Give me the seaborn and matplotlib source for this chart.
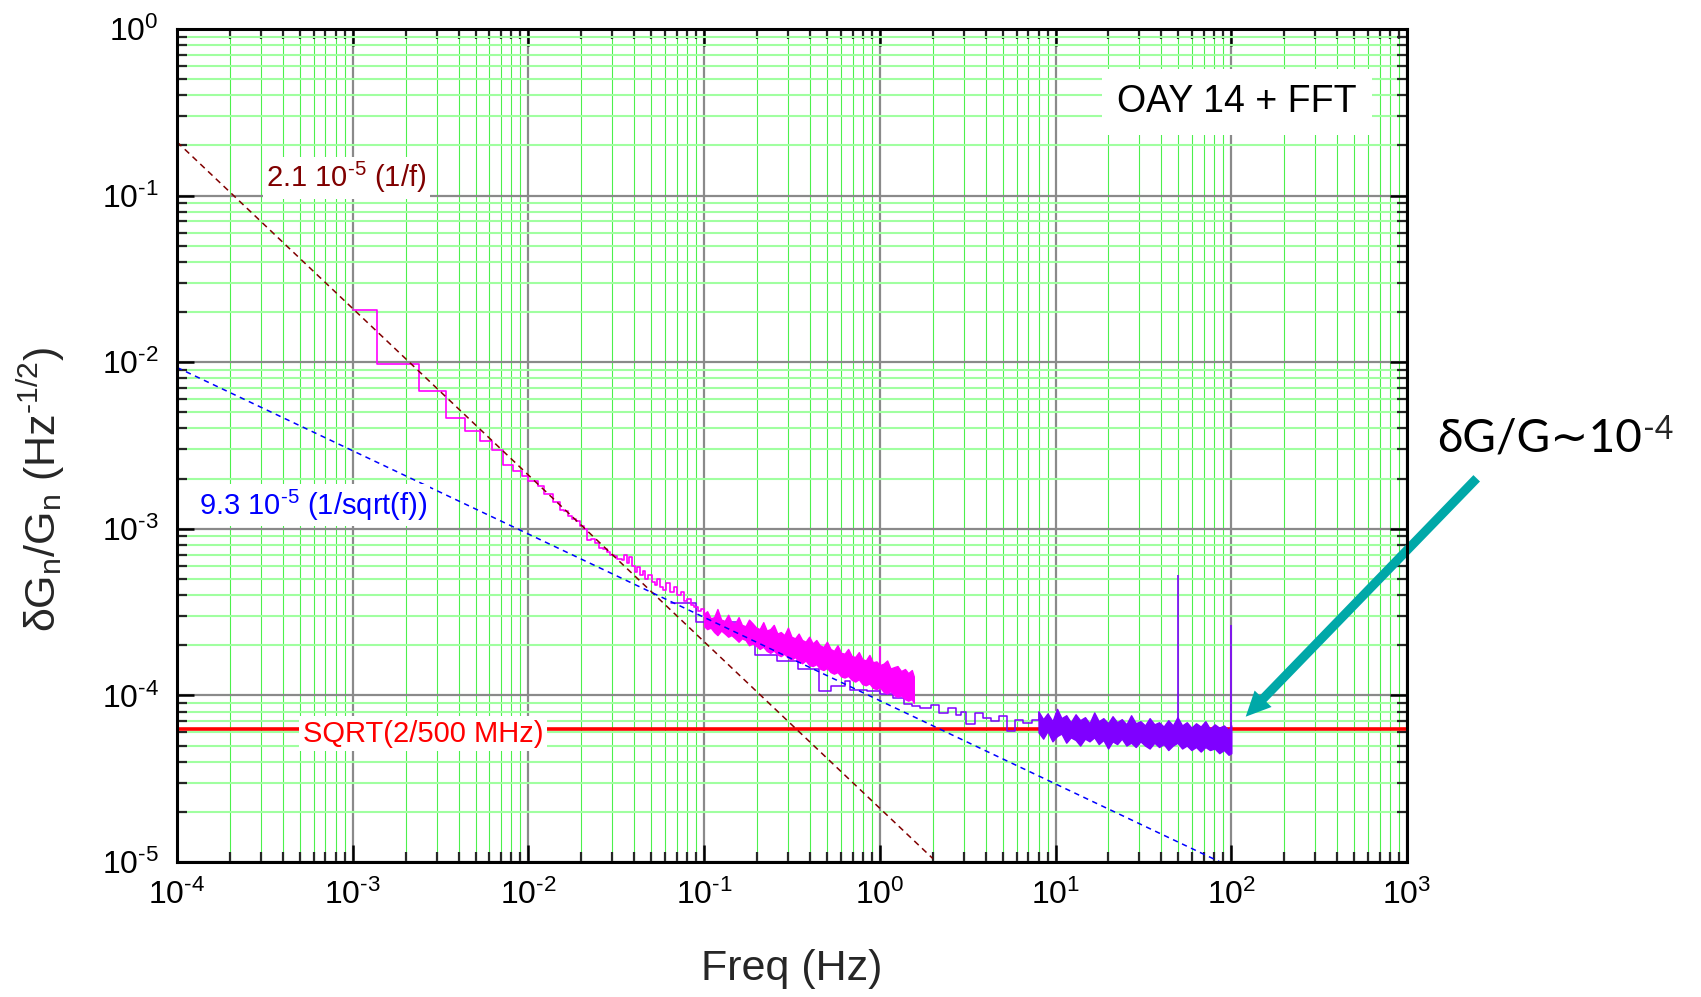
import numpy as np
import matplotlib
matplotlib.use("Agg")
import matplotlib.pyplot as plt
import seaborn as sns
from matplotlib.ticker import LogLocator, FuncFormatter, NullFormatter, FixedLocator

# ---------------- data ----------------
# magenta trace: low-frequency step part (steps-post: value holds from f to next f)
mag_step_f = [1.0e-3, 1.37e-3, 2.37e-3, 3.38e-3, 4.33e-3, 5.33e-3, 6.18e-3, 7.16e-3,
              8.18e-3, 9.23e-3, 1.0e-2, 1.13e-2, 1.22e-2, 1.38e-2, 1.52e-2, 1.60e-2,
              1.69e-2, 1.78e-2, 1.86e-2, 1.96e-2, 2.06e-2, 2.15e-2, 2.28e-2, 2.40e-2,
              2.52e-2, 2.65e-2, 2.79e-2, 2.92e-2, 3.08e-2, 3.20e-2, 3.40e-2, 3.52e-2,
              3.65e-2, 3.76e-2, 3.90e-2, 4.02e-2, 4.16e-2, 4.30e-2, 4.46e-2, 4.60e-2,
              4.80e-2, 5.08e-2, 5.25e-2, 5.40e-2, 5.62e-2, 5.85e-2, 6.05e-2, 6.43e-2,
              6.70e-2, 7.00e-2, 7.35e-2, 7.70e-2, 8.00e-2, 8.40e-2, 8.80e-2, 9.20e-2,
              9.61e-2, 1.0e-1]
mag_step_v = [2.07e-2, 9.8e-3, 6.76e-3, 4.63e-3, 3.89e-3, 3.36e-3, 2.96e-3, 2.43e-3,
              2.22e-3, 2.07e-3, 1.93e-3, 1.80e-3, 1.62e-3, 1.45e-3, 1.30e-3, 1.28e-3,
              1.20e-3, 1.14e-3, 1.11e-3, 1.04e-3, 1.00e-3, 8.6e-4, 8.7e-4, 8.2e-4,
              7.7e-4, 7.6e-4, 7.3e-4, 7.0e-4, 6.9e-4, 6.6e-4, 6.5e-4, 7.0e-4,
              6.2e-4, 6.8e-4, 6.0e-4, 5.5e-4, 5.9e-4, 5.3e-4, 5.6e-4, 5.0e-4,
              5.3e-4, 4.8e-4, 4.6e-4, 5.0e-4, 4.5e-4, 4.3e-4, 4.7e-4, 4.2e-4,
              4.5e-4, 4.0e-4, 4.2e-4, 3.7e-4, 3.8e-4, 3.5e-4, 3.4e-4, 3.2e-4,
              3.3e-4, 3.0e-4]
# magenta trace: dense noisy part, upper / lower envelope
mag_band_f = [0.100, 0.104, 0.109, 0.114, 0.119, 0.125, 0.131, 0.137, 0.143, 0.150,
              0.157, 0.164, 0.172, 0.180, 0.189, 0.198, 0.207, 0.217, 0.227, 0.238,
              0.249, 0.261, 0.273, 0.286, 0.300, 0.314, 0.329, 0.345, 0.361, 0.378,
              0.396, 0.415, 0.435, 0.455, 0.477, 0.500, 0.524, 0.548, 0.574, 0.602,
              0.630, 0.660, 0.692, 0.724, 0.759, 0.795, 0.832, 0.872, 0.913, 0.957,
              1.00, 1.05, 1.10, 1.15, 1.21, 1.26, 1.32, 1.39, 1.45, 1.52, 1.56]
mag_band_hi = [3.10e-4, 3.20e-4, 2.90e-4, 2.95e-4, 3.30e-4, 2.85e-4, 2.80e-4, 3.05e-4, 2.75e-4, 2.70e-4,
               2.95e-4, 2.65e-4, 2.60e-4, 2.85e-4, 2.70e-4, 2.55e-4, 2.50e-4, 2.75e-4, 2.45e-4, 2.50e-4,
               2.65e-4, 2.35e-4, 2.40e-4, 2.30e-4, 2.55e-4, 2.25e-4, 2.20e-4, 2.35e-4, 2.15e-4, 2.10e-4,
               2.25e-4, 2.05e-4, 2.15e-4, 2.00e-4, 1.95e-4, 2.10e-4, 1.90e-4, 1.85e-4, 2.00e-4, 1.80e-4,
               1.78e-4, 1.90e-4, 1.72e-4, 1.70e-4, 1.82e-4, 1.65e-4, 1.62e-4, 1.75e-4, 1.58e-4, 1.60e-4,
               1.52e-4, 1.55e-4, 1.62e-4, 1.45e-4, 1.48e-4, 1.50e-4, 1.40e-4, 1.44e-4, 1.36e-4, 1.42e-4, 1.30e-4]
mag_band_lo = [2.60e-4, 2.50e-4, 2.55e-4, 2.40e-4, 2.30e-4, 2.45e-4, 2.35e-4, 2.25e-4, 2.30e-4, 2.20e-4,
               2.10e-4, 2.20e-4, 2.15e-4, 2.00e-4, 2.05e-4, 1.98e-4, 1.90e-4, 1.96e-4, 1.85e-4, 1.80e-4,
               1.86e-4, 1.76e-4, 1.72e-4, 1.78e-4, 1.68e-4, 1.64e-4, 1.70e-4, 1.60e-4, 1.56e-4, 1.62e-4,
               1.52e-4, 1.50e-4, 1.54e-4, 1.45e-4, 1.42e-4, 1.46e-4, 1.38e-4, 1.35e-4, 1.38e-4, 1.30e-4,
               1.28e-4, 1.31e-4, 1.24e-4, 1.21e-4, 1.25e-4, 1.17e-4, 1.15e-4, 1.18e-4, 1.11e-4, 1.09e-4,
               1.12e-4, 1.05e-4, 1.03e-4, 1.06e-4, 1.00e-4, 0.98e-4, 1.00e-4, 0.95e-4, 0.93e-4, 0.95e-4, 0.90e-4]
# purple trace: step part
pur_step_f = [0.065, 0.090, 0.153, 0.194, 0.26, 0.34, 0.45, 0.53, 0.63, 0.68, 0.84,
              1.00, 1.19, 1.38, 1.53, 1.70, 1.96, 2.18, 2.43, 2.70, 2.90, 3.11, 3.46,
              3.85, 4.28, 4.76, 5.30, 5.90, 6.56, 7.30, 8.10]
pur_step_v = [3.6e-4, 2.77e-4, 2.2e-4, 1.75e-4, 1.6e-4, 1.45e-4, 1.07e-4, 1.14e-4,
              1.22e-4, 1.08e-4, 1.06e-4, 1.02e-4, 9.6e-5, 8.9e-5, 8.6e-5, 8.4e-5,
              8.7e-5, 7.8e-5, 8.4e-5, 7.6e-5, 8.0e-5, 6.7e-5, 7.8e-5, 7.3e-5, 7.0e-5,
              7.5e-5, 6.1e-5, 7.1e-5, 6.8e-5, 7.1e-5, 8.0e-5]
# purple trace: dense noisy part, upper / lower envelope
pur_band_f = [8.0, 8.5, 9.0, 9.6, 10.2, 10.8, 11.5, 12.2, 13.0, 13.8, 14.7, 15.6, 16.6,
              17.6, 18.7, 19.9, 21.1, 22.4, 23.8, 25.3, 26.9, 28.6, 30.4, 32.3, 34.3,
              36.5, 38.8, 41.2, 43.8, 46.5, 49.4, 52.5, 55.8, 59.3, 63.0, 67.0, 71.2,
              75.6, 80.4, 85.4, 90.8, 96.5, 100.0]
pur_band_hi = [8.0e-5, 7.2e-5, 7.8e-5, 7.0e-5, 8.3e-5, 7.3e-5, 7.6e-5, 6.9e-5, 7.7e-5,
               7.1e-5, 7.4e-5, 6.8e-5, 7.9e-5, 7.0e-5, 7.3e-5, 6.8e-5, 7.5e-5, 6.9e-5,
               7.2e-5, 6.7e-5, 7.6e-5, 6.8e-5, 7.0e-5, 6.6e-5, 7.3e-5, 6.7e-5, 6.9e-5,
               6.5e-5, 7.1e-5, 6.6e-5, 7.4e-5, 6.6e-5, 6.9e-5, 6.4e-5, 6.8e-5, 6.5e-5,
               7.0e-5, 6.3e-5, 6.7e-5, 6.4e-5, 6.6e-5, 6.2e-5, 6.6e-5]
pur_band_lo = [6.0e-5, 5.5e-5, 6.1e-5, 5.3e-5, 5.7e-5, 5.9e-5, 5.2e-5, 5.6e-5, 5.4e-5,
               5.0e-5, 5.5e-5, 5.3e-5, 5.6e-5, 5.1e-5, 5.4e-5, 4.8e-5, 5.3e-5, 5.1e-5,
               5.5e-5, 5.0e-5, 5.2e-5, 4.9e-5, 5.3e-5, 5.0e-5, 4.8e-5, 5.2e-5, 4.9e-5,
               5.1e-5, 4.7e-5, 5.0e-5, 5.2e-5, 4.8e-5, 5.0e-5, 4.7e-5, 4.9e-5, 4.6e-5,
               4.9e-5, 4.7e-5, 4.8e-5, 4.5e-5, 4.7e-5, 4.4e-5, 4.5e-5]
# narrow spectral lines
spike_f = [1.0, 50.0, 100.0]
spike_lo = [1.2e-4, 6.0e-5, 4.6e-5]
spike_hi = [1.94e-4, 5.25e-4, 2.63e-4]
spike_trace = ["magenta", "purple", "purple"]
# fitted guide lines (end points)
fit_1f_f = [1.0e-4, 2.0]
fit_1f_v = [0.21, 1.05e-5]
fit_sqrt_f = [1.0e-4, 100.0]
fit_sqrt_v = [9.3e-3, 9.3e-6]
# radiometer limit SQRT(2/500 MHz)
limit_f = [1.0e-4, 1.0e3]
limit_v = [6.32e-5, 6.32e-5]
# axes
x_ticks = [1e-4, 1e-3, 1e-2, 1e-1, 1e0, 1e1, 1e2, 1e3]
y_ticks = [1e-5, 1e-4, 1e-3, 1e-2, 1e-1, 1e0]

# ---------------- styling ----------------
sns.set_style("ticks")
plt.rcParams["font.family"] = ["Liberation Sans", "DejaVu Sans"]
plt.rcParams["mathtext.fontset"] = "custom"
plt.rcParams["mathtext.rm"] = "Liberation Sans"
plt.rcParams["mathtext.it"] = "Liberation Sans:italic"
plt.rcParams["mathtext.bf"] = "Liberation Sans:bold"
plt.rcParams["axes.linewidth"] = 2.2

MAGENTA = "#ff00ff"
PURPLE = "#7f00ff"
BROWN = "#800000"
BLUE = "#0000ff"
RED = "#ff0000"
TEAL = "#00a8a8"

fig = plt.figure(figsize=(17.01, 9.97), dpi=100)
ax = fig.add_axes([177 / 1701, 1 - 862 / 997, 1230 / 1701, 833 / 997])
ax.set_xscale("log")
ax.set_yscale("log")
ax.set_xlim(x_ticks[0], x_ticks[-1])
ax.set_ylim(y_ticks[0], y_ticks[-1])

# ticks
ax.xaxis.set_major_locator(FixedLocator(x_ticks))
ax.yaxis.set_major_locator(FixedLocator(y_ticks))
ax.xaxis.set_minor_locator(LogLocator(base=10, subs=np.arange(2, 10), numticks=200))
ax.yaxis.set_minor_locator(LogLocator(base=10, subs=np.arange(2, 10), numticks=200))
pow_fmt = FuncFormatter(lambda v, p: r"$\mathregular{10^{\text{%d}}}$" % int(round(np.log10(v))))
ax.xaxis.set_major_formatter(pow_fmt)
ax.yaxis.set_major_formatter(pow_fmt)
ax.xaxis.set_minor_formatter(NullFormatter())
ax.yaxis.set_minor_formatter(NullFormatter())
ax.tick_params(which="major", direction="in", length=12, width=1.8,
               top=True, right=True, labelsize=23, colors="black")
ax.tick_params(which="minor", direction="in", length=7, width=1.6,
               top=True, right=True)
ax.tick_params(axis="x", which="major", pad=13)
ax.tick_params(axis="y", which="major", pad=13)
for s in ax.spines.values():
    s.set_linewidth(2.2)
    s.set_color("black")
    s.set_zorder(10)

# grid
ax.set_axisbelow(True)
ax.grid(which="minor", axis="x", color="#4cf04c", lw=0.8, zorder=0)
ax.grid(which="minor", axis="y", color="#a0ffa0", lw=1.5, zorder=0)
ax.grid(which="major", color="#8a8a8a", lw=1.6, zorder=0.5)

# radiometer limit
sns.lineplot(x=limit_f, y=limit_v, ax=ax, color=RED, lw=2.6, zorder=2)

# purple trace
sns.lineplot(x=pur_step_f, y=pur_step_v, ax=ax, color=PURPLE, lw=1.1,
             drawstyle="steps-post", zorder=3)
ax.fill_between(pur_band_f, pur_band_lo, pur_band_hi, color=PURPLE,
                edgecolor=PURPLE, lw=1.0, zorder=3)
# magenta trace
sns.lineplot(x=mag_step_f, y=mag_step_v, ax=ax, color=MAGENTA, lw=1.2,
             drawstyle="steps-post", zorder=4)
ax.fill_between(mag_band_f, mag_band_lo, mag_band_hi, color=MAGENTA,
                edgecolor=MAGENTA, lw=1.0, zorder=4)
# spectral lines
for f, lo, hi, tr in zip(spike_f, spike_lo, spike_hi, spike_trace):
    ax.vlines(f, lo, hi, color=MAGENTA if tr == "magenta" else PURPLE, lw=1.2, zorder=4)

# guide lines
sns.lineplot(x=fit_1f_f, y=fit_1f_v, ax=ax, color=BROWN, lw=1.1,
             linestyle=(0, (4, 3)), zorder=5)
sns.lineplot(x=fit_sqrt_f, y=fit_sqrt_v, ax=ax, color=BLUE, lw=1.1,
             linestyle=(0, (3.5, 3)), zorder=5)

# axis labels
ax.set_xlabel("Freq (Hz)", fontsize=31)
ax.xaxis.set_label_coords(0.5, -0.104)
ax.set_ylabel(r"$\mathregular{\delta G_n/G_n\ (Hz^{\text{-1/2}})}$", fontsize=31)
ax.yaxis.set_label_coords(-0.0894, 0.447)

# in-plot labels
box = dict(boxstyle="square,pad=0.12", fc="white", ec="none")
ax.text(0.0724, 0.810, r"2.1 10$^{\text{-5}}$ (1/f)", transform=ax.transAxes,
        color=BROWN, fontsize=21, ha="left", va="baseline", bbox=box, zorder=6)
ax.text(0.0175, 0.4166, r"9.3 10$^{\text{-5}}$ (1/sqrt(f))", transform=ax.transAxes,
        color=BLUE, fontsize=21, ha="left", va="baseline", bbox=box, zorder=6)
ax.text(0.1024, 0.1444, "SQRT(2/500 MHz)", transform=ax.transAxes,
        color=RED, fontsize=21, ha="left", va="baseline", bbox=box, zorder=6)
ax.text(0.8618, 0.9007, "OAY 14 + FFT", transform=ax.transAxes,
        color="black", fontsize=27, ha="center", va="baseline",
        bbox=dict(boxstyle="square,pad=0.4", fc="white", ec="none"), zorder=6)

# outside annotation
t = fig.text(1437 / 1701, 1 - 452 / 997, "δG/G\u223c10", fontsize=33,
             family=["Lato", "DejaVu Sans"], ha="left", va="baseline", color="black")
fig.canvas.draw()
ax.annotate("-4", xy=(1.0, 1.0), xycoords=t, xytext=(1, 2), textcoords="offset points",
            fontsize=23, family=["Lato", "DejaVu Sans"], ha="left", va="top",
            annotation_clip=False)
ax.annotate("", xy=(1245.7 / 1701, 1 - 716.7 / 997), xycoords="figure fraction",
            xytext=(1476.7 / 1701, 1 - 478.3 / 997), textcoords="figure fraction",
            arrowprops=dict(arrowstyle="simple,head_length=0.9,head_width=0.85,tail_width=0.33",
                            color=TEAL, lw=0, shrinkA=0, shrinkB=0, mutation_scale=20),
            annotation_clip=False)

fig.savefig("out.png", dpi=100, facecolor="white")
